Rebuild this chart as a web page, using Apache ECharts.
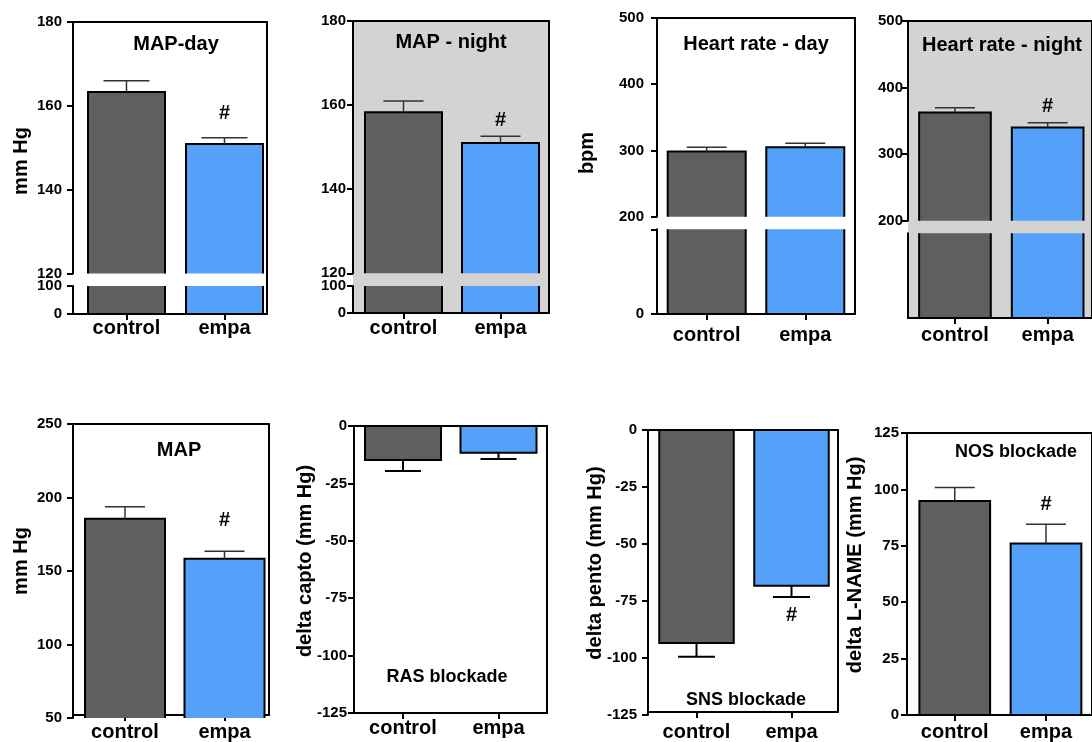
<!DOCTYPE html>
<html>
<head>
<meta charset="utf-8">
<title>MAP / heart rate panels</title>
<script src="https://cdn.jsdelivr.net/npm/echarts@6/dist/echarts.min.js"></script>
<style>
  html, body { margin: 0; padding: 0; background: #fff; }
  #main { width: 1092px; height: 742px; }
</style>
</head>
<body>
<div id="main"></div>
<script>
// groups on the x axis of every panel
var categories = ['control', 'empa'];

// means and error bars
var mapDay = [163.3, 150.9];
var mapDayErr = [2.7, 1.5];
var mapNight = [158.3, 151.0];
var mapNightErr = [2.7, 1.6];
var hrDay = [298.5, 305];
var hrDayErr = [6.5, 6];
var hrNight = [362.5, 340];
var hrNightErr = [7, 7];
var mapAll = [185.5, 158.4];
var mapAllErr = [8.2, 5];
var deltaCapto = [-14.8, -11.6];
var deltaCaptoErr = [4.8, 2.8];
var deltaPento = [-93.4, -68.3];
var deltaPentoErr = [6, 5];
var deltaLname = [94.9, 76];
var deltaLnameErr = [5.9, 8.5];

// '#' marks (significant vs control)
var sigMapDay = [false, true];
var sigMapNight = [false, true];
var sigHrDay = [false, false];
var sigHrNight = [false, true];
var sigMapAll = [false, true];
var sigCapto = [false, false];
var sigPento = [false, true];
var sigLname = [false, true];

var barColors = ['#5f5f5f', '#55a1f9'];
var FONT = '"Liberation Sans", Arial, sans-serif';

// layout of each panel: box = [left, top, width, height] of the frame,
// centers = pixel x of the two bars, segs = pieces of a broken y axis
var panels = [
  { title: 'MAP-day', titleAt: [176, 44], yName: 'mm Hg', nameAt: [21, 161],
    values: mapDay, errs: mapDayErr, sig: sigMapDay, capW: 46,
    box: [73, 22, 194, 292], centers: [126.5, 224.5], barW: 77, catMargin: 4, tickMargin: 11, hashGap: 24,
    segs: [
      { min: 120, max: 180, interval: 20, top: 22, bottom: 273.5 },
      { min: 0, max: 100, interval: 100, top: 286, bottom: 314 }
    ] },
  { title: 'MAP - night', titleAt: [451, 42], bg: '#d3d3d3',
    values: mapNight, errs: mapNightErr, sig: sigMapNight,
    box: [353, 21, 196, 292], centers: [403.5, 500.5], barW: 77, catMargin: 5, tickMargin: 7, hashGap: 16,
    segs: [
      { min: 120, max: 180, interval: 20, top: 21, bottom: 273.3 },
      { min: 0, max: 100, interval: 100, top: 286, bottom: 313 }
    ] },
  { title: 'Heart rate - day', titleAt: [756, 44], yName: 'bpm', nameAt: [587, 153],
    values: hrDay, errs: hrDayErr, sig: sigHrDay,
    box: [657, 18, 198, 296], centers: [706.7, 805.3], barW: 78, catMargin: 11, tickMargin: 13, hashGap: 16,
    segs: [
      { min: 200, max: 500, interval: 100, top: 18, bottom: 216.7 },
      { min: 0, max: 190, top: 229.3, bottom: 314, ticks: [0, 190], labels: [0] }
    ] },
  { title: 'Heart rate - night', titleAt: [1002, 45], bg: '#d3d3d3',
    values: hrNight, errs: hrNightErr, sig: sigHrNight,
    box: [908, 21, 190, 297], centers: [956.5, 1052.2], barW: 74, catMargin: 7, tickMargin: 5, hashGap: 16,
    segs: [
      { min: 200, max: 500, interval: 100, top: 21, bottom: 220.7 },
      { min: 0, max: 190, top: 233.3, bottom: 318, noTicks: true }
    ] },
  { title: 'MAP', titleAt: [179, 450], yName: 'mm Hg', nameAt: [21, 561],
    values: mapAll, errs: mapAllErr, sig: sigMapAll,
    box: [73, 424, 196, 294], centers: [125, 224.5], barW: 80, catMargin: 7, tickMargin: 11, hashGap: 31,
    segs: [{ min: 50, max: 250, interval: 50, top: 424, bottom: 718 }] },
  { title: 'RAS blockade', titleAt: [447, 677], titleSize: 18, yName: 'delta capto (mm Hg)', nameAt: [305, 561],
    values: deltaCapto, errs: deltaCaptoErr, sig: sigCapto, errBlack: true, capW: 36,
    box: [354, 426, 193, 287], centers: [403, 498.5], barW: 76, catMargin: 5, tickMargin: 7, hashGap: 18,
    segs: [{ min: -125, max: 0, interval: 25, top: 426, bottom: 713 }] },
  { title: 'SNS blockade', titleAt: [746, 700], titleSize: 18, yName: 'delta pento (mm Hg)', nameAt: [595, 563],
    values: deltaPento, errs: deltaPentoErr, sig: sigPento, errBlack: true, capW: 37,
    box: [648, 430, 190, 285], centers: [696.5, 791.5], barW: 74.5, catMargin: 10, tickMargin: 11, hashGap: 18,
    segs: [{ min: -125, max: 0, interval: 25, top: 430, bottom: 715 }] },
  { title: 'NOS blockade', titleAt: [1016, 452], titleSize: 18, yName: 'delta L-NAME (mm Hg)', nameAt: [855, 565],
    values: deltaLname, errs: deltaLnameErr, sig: sigLname,
    box: [907, 433, 191, 282], centers: [956.3, 1050.5], barW: 73, catMargin: 7, tickMargin: 8, hashGap: 20,
    segs: [{ min: 0, max: 125, interval: 25, top: 433, bottom: 715 }] }
];

var axisLineStyle = { color: '#000', width: 2 };

function makeRenderer(p, s) {
  return function (params, api) {
    var x = api.value(0), v = api.value(1), e = api.value(2), sig = api.value(3);
    var idx = Math.round(x) - 1;
    var hw = p.barW / 2 / p.unit;
    var cap = (p.capW || 40) / 2;
    var lo = Math.min(0, v), hi = Math.max(0, v);
    var cLo = Math.max(lo, s.min), cHi = Math.min(hi, s.max);
    var children = [];
    if (cHi > cLo) {
      var tl = api.coord([x - hw, cHi]);
      var br = api.coord([x + hw, cLo]);
      children.push({ type: 'rect', shape: { x: tl[0], y: tl[1], width: br[0] - tl[0], height: br[1] - tl[1] },
        style: { fill: barColors[idx] } });
      var TL = [tl[0], tl[1]], TR = [br[0], tl[1]], BL = [tl[0], br[1]], BR = [br[0], br[1]];
      var hasTop = cHi === hi, hasBot = cLo === lo;
      var outline = { stroke: '#000', lineWidth: 2, fill: null, lineJoin: 'miter' };
      if (hasTop && hasBot) {
        children.push({ type: 'polygon', shape: { points: [TL, TR, BR, BL] }, style: outline });
      } else if (hasTop) {
        children.push({ type: 'polyline', shape: { points: [BL, TL, TR, BR] }, style: outline });
      } else if (hasBot) {
        children.push({ type: 'polyline', shape: { points: [TL, BL, BR, TR] }, style: outline });
      } else {
        children.push({ type: 'polyline', shape: { points: [TL, BL] }, style: outline });
        children.push({ type: 'polyline', shape: { points: [TR, BR] }, style: outline });
      }
    }
    if (v >= s.min && v <= s.max) {
      var dir = v >= 0 ? 1 : -1;
      var pv = api.coord([x, v]);
      var pt = api.coord([x, v + dir * e]);
      var errStyle = { stroke: p.errBlack ? '#000' : '#333', lineWidth: p.errBlack ? 2 : 1.5 };
      children.push({ type: 'line', shape: { x1: pv[0], y1: pv[1], x2: pt[0], y2: pt[1] }, style: errStyle });
      children.push({ type: 'line', shape: { x1: pt[0] - cap, y1: pt[1], x2: pt[0] + cap, y2: pt[1] }, style: errStyle });
      if (sig) {
        children.push({ type: 'text', x: pt[0], y: pt[1] - dir * p.hashGap,
          style: { text: '#', fill: '#000', font: 'bold 20px ' + FONT, align: 'center', verticalAlign: 'middle' } });
      }
    }
    return { type: 'group', children: children };
  };
}

var grids = [], xAxes = [], yAxes = [], series = [], graphics = [];

panels.forEach(function (p) {
  p.unit = p.centers[1] - p.centers[0];
  var xMin = 1 - (p.centers[0] - p.box[0]) / p.unit;
  var xMax = xMin + p.box[2] / p.unit;

  // frame: bottom category axis, top line, right line, optional grey fill
  var fg = grids.length;
  grids.push({ left: p.box[0], top: p.box[1], width: p.box[2], height: p.box[3],
    show: !!p.bg, backgroundColor: p.bg || 'transparent', borderWidth: 0 });
  xAxes.push({ gridIndex: fg, type: 'value', position: 'bottom', min: xMin, max: xMax,
    axisLine: { show: true, onZero: false, lineStyle: axisLineStyle },
    axisTick: { show: true, customValues: [1, 2], length: 6, lineStyle: axisLineStyle },
    axisLabel: { customValues: [1, 2], margin: p.catMargin, color: '#000', fontSize: 20, fontWeight: 'bold', fontFamily: FONT,
      formatter: function (val) { return categories[Math.round(val) - 1]; } },
    splitLine: { show: false } });
  xAxes.push({ gridIndex: fg, type: 'value', position: 'top', min: xMin, max: xMax,
    axisLine: { show: true, onZero: false, lineStyle: axisLineStyle },
    axisTick: { show: false }, axisLabel: { show: false }, splitLine: { show: false } });
  yAxes.push({ gridIndex: fg, type: 'value', position: 'right', min: 0, max: 1,
    axisLine: { show: true, onZero: false, lineStyle: axisLineStyle },
    axisTick: { show: false }, axisLabel: { show: false }, splitLine: { show: false } });

  // one grid per piece of the y axis
  p.segs.forEach(function (s) {
    var gi = grids.length;
    grids.push({ left: p.box[0], top: s.top, width: p.box[2], height: s.bottom - s.top, show: false });
    var xi = xAxes.length;
    xAxes.push({ gridIndex: gi, type: 'value', min: xMin, max: xMax, show: false });
    var yi = yAxes.length;
    yAxes.push({ gridIndex: gi, type: 'value', position: 'left', min: s.min, max: s.max, interval: s.interval,
      axisLine: { show: true, onZero: false, lineStyle: axisLineStyle },
      axisTick: { show: !s.noTicks, length: 6, lineStyle: axisLineStyle, customValues: s.ticks },
      axisLabel: { show: !s.noTicks, customValues: s.labels, margin: p.tickMargin, color: '#000',
        fontSize: 15, fontWeight: 'bold', fontFamily: FONT },
      splitLine: { show: false } });
    series.push({
      type: 'custom', xAxisIndex: xi, yAxisIndex: yi, z: 3, silent: true,
      data: p.values.map(function (v, i) { return [i + 1, v, p.errs[i], p.sig[i] ? 1 : 0]; }),
      renderItem: makeRenderer(p, s)
    });
  });

  graphics.push({ type: 'text', x: p.titleAt[0], y: p.titleAt[1], z: 10,
    style: { text: p.title, fill: '#000', font: 'bold ' + (p.titleSize || 20) + 'px ' + FONT,
      align: 'center', verticalAlign: 'middle' } });
  if (p.yName) {
    graphics.push({ type: 'text', x: p.nameAt[0], y: p.nameAt[1], rotation: Math.PI / 2, z: 10,
      style: { text: p.yName, fill: '#000', font: 'bold 20px ' + FONT, align: 'center', verticalAlign: 'middle' } });
  }
});

var chart = echarts.init(document.getElementById('main'));
chart.setOption({
  animation: false,
  backgroundColor: '#fff',
  grid: grids,
  xAxis: xAxes,
  yAxis: yAxes,
  series: series,
  graphic: { elements: graphics }
});
</script>
</body>
</html>
